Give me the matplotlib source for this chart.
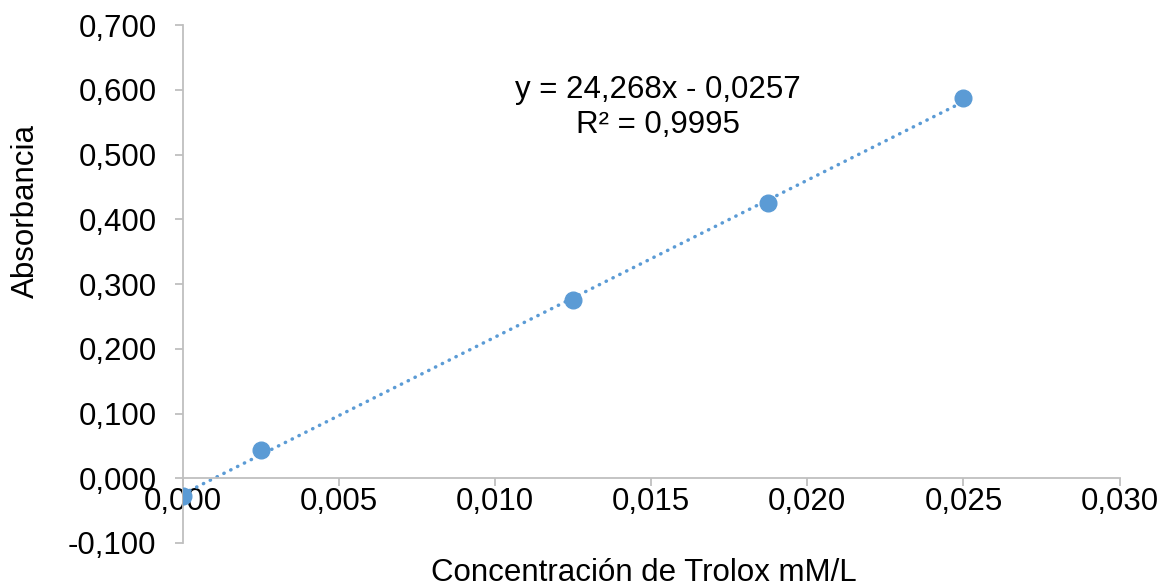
import matplotlib.pyplot as plt
import numpy as np

plt.rcParams['font.family'] = ['Liberation Sans', 'DejaVu Sans']

# datos
concentracion = [0.0, 0.0025, 0.0125, 0.01875, 0.025]
absorbancia = [-0.027, 0.043, 0.275, 0.425, 0.587]
xticks = [0.0, 0.005, 0.010, 0.015, 0.020, 0.025, 0.030]
yticks = [-0.1, 0.0, 0.1, 0.2, 0.3, 0.4, 0.5, 0.6, 0.7]
ecuacion = "y = 24,268x - 0,0257\nR² = 0,9995"

azul = "#5B9BD5"
gris = "#BFBFBF"

fig = plt.figure(figsize=(11.65, 5.87), dpi=100)
ax = fig.add_axes([0.157, 0.075, 0.804, 0.882])

# linea de tendencia
m, b = np.polyfit(concentracion, absorbancia, 1)
xs = np.array([min(concentracion), max(concentracion)])
ax.plot(xs, m * xs + b, color=azul, lw=2.5, linestyle=(0, (0.1, 2.1)),
        dash_capstyle='round', zorder=2)
ax.plot(concentracion, absorbancia, 'o', color=azul, markersize=12, zorder=3)

ax.set_xlim(0, 0.03)
ax.set_ylim(-0.1, 0.7)
ax.set_xticks(xticks)
ax.set_yticks(yticks)
ax.set_xticklabels([f"{v:.3f}".replace('.', ',') for v in xticks])
ax.set_yticklabels([f"{v:.3f}".replace('.', ',') for v in yticks])

ax.spines['top'].set_visible(False)
ax.spines['right'].set_visible(False)
ax.spines['bottom'].set_position(('data', 0))
for s in ['left', 'bottom']:
    ax.spines[s].set_color(gris)
    ax.spines[s].set_linewidth(1.3)
ax.tick_params(axis='both', colors=gris, labelcolor='black', labelsize=22.5,
               length=6, width=1.3, direction='out')
ax.tick_params(axis='x', pad=0)
ax.tick_params(axis='y', pad=13)

ax.text(0.0152, 0.573, ecuacion, ha='center', va='center', fontsize=22.5,
        linespacing=1.25)

fig.text(0.553, 0.024, "Concentración de Trolox mM/L", ha='center', va='center', fontsize=22.5)
fig.text(0.022, 0.64, "Absorbancia", ha='center', va='center', rotation=90, fontsize=22.5)

fig.savefig("out.png", dpi=100)
